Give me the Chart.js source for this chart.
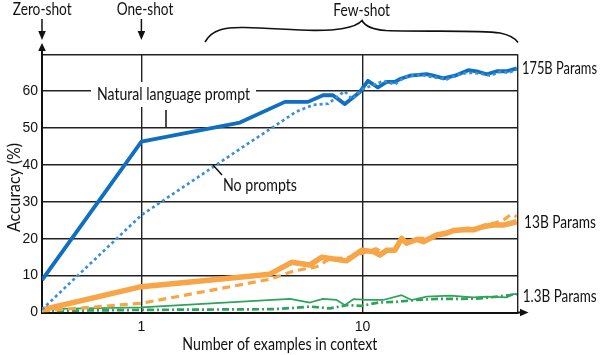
<!DOCTYPE html>
<html>
<head>
<meta charset="utf-8">
<script src="https://cdn.jsdelivr.net/npm/chart.js@4/dist/chart.umd.min.js"></script>
<style>
  html, body { margin: 0; padding: 0; background: #fff; }
  #wrap { width: 600px; height: 355px; }
</style>
</head>
<body>
<div id="wrap"><canvas id="c" width="600" height="355"></canvas></div>
<script>
// ---- data ----
const ZERO_SHOT_K = 0.355;          // where K = 0 (zero-shot) sits on the log axis
const X_MIN = 0.355, X_MAX = 50.4;
const xTickValues = [1, 10];
const yTickMax = 70;
const Z = ZERO_SHOT_K;

const k175Prompt   = [Z,1,2.79,4.46,5.67,6.63,7.35,8.33,9.74,10.59,11.75,12.87,14.03,14.78,16.4,19.52,20.91,23.2,26.2,30.1,32.9,36.5,40.5,44.9,49.9];
const acc175Prompt = [8.8,46.3,51.5,57.1,57.1,58.9,58.9,56.5,59.8,62.8,61.0,62.5,62.5,63.3,64.2,64.6,64.2,63.5,64.2,65.7,65.4,64.6,65.4,65.4,66.2];

const k175None   = [Z,1,2,3,4,5,6,7,8.3,9,10,11,12.5,14,15.5,18,21,24,27,30,34,38,42,46,49.9];
const acc175None = [0.8,26.4,38.5,45.6,50.5,54.4,56.3,56.6,60.0,57.8,60.5,61.5,62.8,61.8,63.8,64.5,63.8,63.2,64.5,65.0,64.8,64.2,65.3,65.0,66.0];

const k13Prompt   = [Z,1,3.81,4.78,5.79,6.54,8.48,9.92,11.19,12.0,12.87,14.03,15.05,15.85,17.59,18.84,21.67,24.04,25.76,29.61,31.72,35.21,39.07,43.36,49.9];
const acc13Prompt = [0.7,7.0,10.4,13.6,12.9,15.0,14.0,16.9,16.5,15.6,16.9,16.9,20.1,18.8,19.8,19.2,21.0,21.5,22.2,22.5,22.4,23.3,23.7,23.7,24.6];

const k13None   = [Z,1,3.81,4.86,6.2,7.13,8.5,9.9,11.5,12.5,14,15,16.5,18,20,22,24,27,30,33,36,40,44,47,49.9];
const acc13None = [0.4,2.5,9.0,11.2,12.4,14.6,14.8,16.0,17.3,16.2,17.5,19.8,19.0,20.2,20.0,21.3,21.8,22.0,22.9,22.6,23.8,24.3,25.3,26.6,26.0];

const k1_3Prompt   = [Z,1,4.7,5.79,6.63,7.64,8.33,9.09,10.5,12.42,15.05,16.7,19.52,24.9,31.72,36.5,44.9,48.1,49.9];
const acc1_3Prompt = [0.9,1.4,3.7,2.7,3.7,3.4,2.0,3.6,3.4,3.4,4.7,3.4,4.3,4.6,4.1,4.3,4.1,5.0,5.0];

const k1_3None   = [Z,1,3.95,5.04,5.79,7.13,8.48,9.92,11.79,14.28,17.59,22.42,26.7,34.0,40.5,46.5,49.9];
const acc1_3None = [0.4,0.7,0.9,1.3,1.6,1.1,2.0,1.8,2.7,2.9,3.4,3.7,3.7,3.8,4.3,4.7,5.0];

// ---- styling ----
const TICK_FONT = "'Liberation Sans', Arial, sans-serif";
const TEXT_FONT = "Lato, 'Liberation Sans', sans-serif";
const INK = '#111111';
const BLUE = '#0f6fc0', BLUE_LIGHT = '#3a8fd8', ORANGE = '#f8a547', GREEN = '#2ea35a';

function pts(ks, vs) { return ks.map((k, i) => ({ x: k, y: vs[i] })); }

Chart.defaults.font.family = TICK_FONT;
Chart.defaults.color = INK;

// draw text squeezed horizontally to a given width (the reference uses a condensed face)
function fitText(ctx, text, x, y, w, align) {
  const m = ctx.measureText(text).width;
  const s = w / m;
  ctx.save();
  ctx.translate(x, y);
  ctx.scale(s, 1);
  ctx.textAlign = align;
  ctx.fillText(text, 0, 0);
  ctx.restore();
}

const annotations = {
  id: 'annotations',
  afterDraw(chart) {
    const ctx = chart.ctx;
    const xs = chart.scales.x, ys = chart.scales.y;
    const ca = chart.chartArea;
    const px = v => xs.getPixelForValue(v);
    ctx.save();
    ctx.fillStyle = INK; ctx.strokeStyle = INK;

    // white box behind "Natural language prompt"
    ctx.fillStyle = '#fff';
    ctx.fillRect(91, 82, 165, 25);
    ctx.fillStyle = INK;

    ctx.font = '16.5px ' + TEXT_FONT;
    ctx.textBaseline = 'alphabetic';
    fitText(ctx, 'Natural language prompt', 173.5, 100, 153, 'center');
    fitText(ctx, 'No prompts', 260, 190.5, 74, 'center');

    // pointers
    ctx.lineWidth = 1.5;
    ctx.beginPath(); ctx.moveTo(166, 110); ctx.lineTo(166, 127); ctx.stroke();
    ctx.beginPath(); ctx.moveTo(213, 165); ctx.lineTo(222, 175); ctx.stroke();

    // top labels
    fitText(ctx, 'Zero-shot', 42.2, 15, 59, 'center');
    fitText(ctx, 'One-shot', 145, 15, 56.6, 'center');
    fitText(ctx, 'Few-shot', 361.7, 15.5, 56.7, 'center');

    // down arrows
    function downArrow(x) {
      ctx.lineWidth = 1.5;
      ctx.beginPath(); ctx.moveTo(x, 19); ctx.lineTo(x, 33); ctx.stroke();
      ctx.beginPath(); ctx.moveTo(x - 3.8, 31); ctx.lineTo(x + 3.8, 31); ctx.lineTo(x, 40); ctx.closePath(); ctx.fill();
    }
    downArrow(ca.left);
    downArrow(px(1));

    // y axis extension + up arrow
    ctx.lineWidth = 2;
    ctx.beginPath(); ctx.moveTo(ca.left, ca.top); ctx.lineTo(ca.left, 49); ctx.stroke();
    ctx.beginPath(); ctx.moveTo(ca.left - 3.8, 51); ctx.lineTo(ca.left + 3.8, 51); ctx.lineTo(ca.left, 43); ctx.closePath(); ctx.fill();

    // x axis extension + right arrow
    const yb = ys.getPixelForValue(0);
    ctx.beginPath(); ctx.moveTo(ca.right, yb); ctx.lineTo(522, yb); ctx.stroke();
    ctx.beginPath(); ctx.moveTo(520, yb - 3.8); ctx.lineTo(520, yb + 3.8); ctx.lineTo(528.5, yb); ctx.closePath(); ctx.fill();

    // brace over few-shot
    ctx.lineWidth = 1.6;
    ctx.beginPath();
    ctx.moveTo(205, 42);
    ctx.bezierCurveTo(212, 29, 226, 27, 245, 27.5);
    ctx.bezierCurveTo(280, 28, 318, 33, 343, 28.5);
    ctx.bezierCurveTo(354, 26.5, 359, 24, 362, 20.5);
    ctx.bezierCurveTo(365, 26, 371, 29.5, 386, 30.5);
    ctx.bezierCurveTo(430, 32, 478, 30, 500, 33);
    ctx.bezierCurveTo(510, 35, 515, 38, 518, 42.5);
    ctx.stroke();

    // right labels
    fitText(ctx, '175B Params', 522, 74, 75, 'left');
    fitText(ctx, '13B Params', 524, 227.5, 72, 'left');
    fitText(ctx, '1.3B Params', 522.7, 302.3, 74, 'left');

    // axis titles
    fitText(ctx, 'Number of examples in context', (ca.left + ca.right) / 2, 350, 195, 'center');
    ctx.save();
    ctx.translate(19.5, 187.5);
    ctx.rotate(-Math.PI / 2);
    fitText(ctx, 'Accuracy (%)', 0, 0, 89, 'center');
    ctx.restore();

    ctx.restore();
  }
};

new Chart(document.getElementById('c'), {
  type: 'line',
  data: {
    datasets: [
      { label: '175B natural language prompt', data: pts(k175Prompt, acc175Prompt), borderColor: BLUE, borderWidth: 3.8, order: 2 },
      { label: '175B no prompts', data: pts(k175None, acc175None), borderColor: BLUE_LIGHT, borderWidth: 2.7, borderDash: [3, 3], order: 1 },
      { label: '13B natural language prompt', data: pts(k13Prompt, acc13Prompt), borderColor: ORANGE, borderWidth: 5.5, order: 4 },
      { label: '13B no prompts', data: pts(k13None, acc13None), borderColor: ORANGE, borderWidth: 3.2, borderDash: [8, 5], order: 3 },
      { label: '1.3B natural language prompt', data: pts(k1_3Prompt, acc1_3Prompt), borderColor: GREEN, borderWidth: 1.7, order: 6 },
      { label: '1.3B no prompts', data: pts(k1_3None, acc1_3None), borderColor: GREEN, borderWidth: 2.7, borderDash: [7, 3, 2, 3], order: 5 }
    ]
  },
  options: {
    responsive: false,
    animation: false,
    events: [],
    layout: { padding: { top: 54.3, right: 82.3, left: 0, bottom: 0 } },
    elements: {
      point: { radius: 0 },
      line: { tension: 0, fill: false, borderJoinStyle: 'round' }
    },
    plugins: { legend: { display: false }, tooltip: { enabled: false }, title: { display: false } },
    scales: {
      x: {
        type: 'logarithmic',
        min: X_MIN, max: X_MAX,
        afterBuildTicks: s => { s.ticks = xTickValues.concat([X_MAX]).map(v => ({ value: v })); },
        afterFit: s => { s.height = 42.5; },
        ticks: {
          autoSkip: false, maxRotation: 0, padding: 6,
          font: { size: 14 }, color: INK,
          callback: v => (xTickValues.includes(v) ? String(v) : '')
        },
        grid: { color: '#222222', lineWidth: 1.4, drawTicks: false },
        border: { color: INK, width: 2 }
      },
      y: {
        min: 0, max: yTickMax,
        afterFit: s => { s.width = 42; },
        ticks: {
          stepSize: 10, padding: 4,
          font: { size: 14 }, color: INK,
          callback: v => (v === yTickMax ? '' : String(v))
        },
        grid: { color: '#222222', lineWidth: 1.4, drawTicks: false },
        border: { color: INK, width: 2 }
      }
    }
  },
  plugins: [annotations]
});
</script>
</body>
</html>
